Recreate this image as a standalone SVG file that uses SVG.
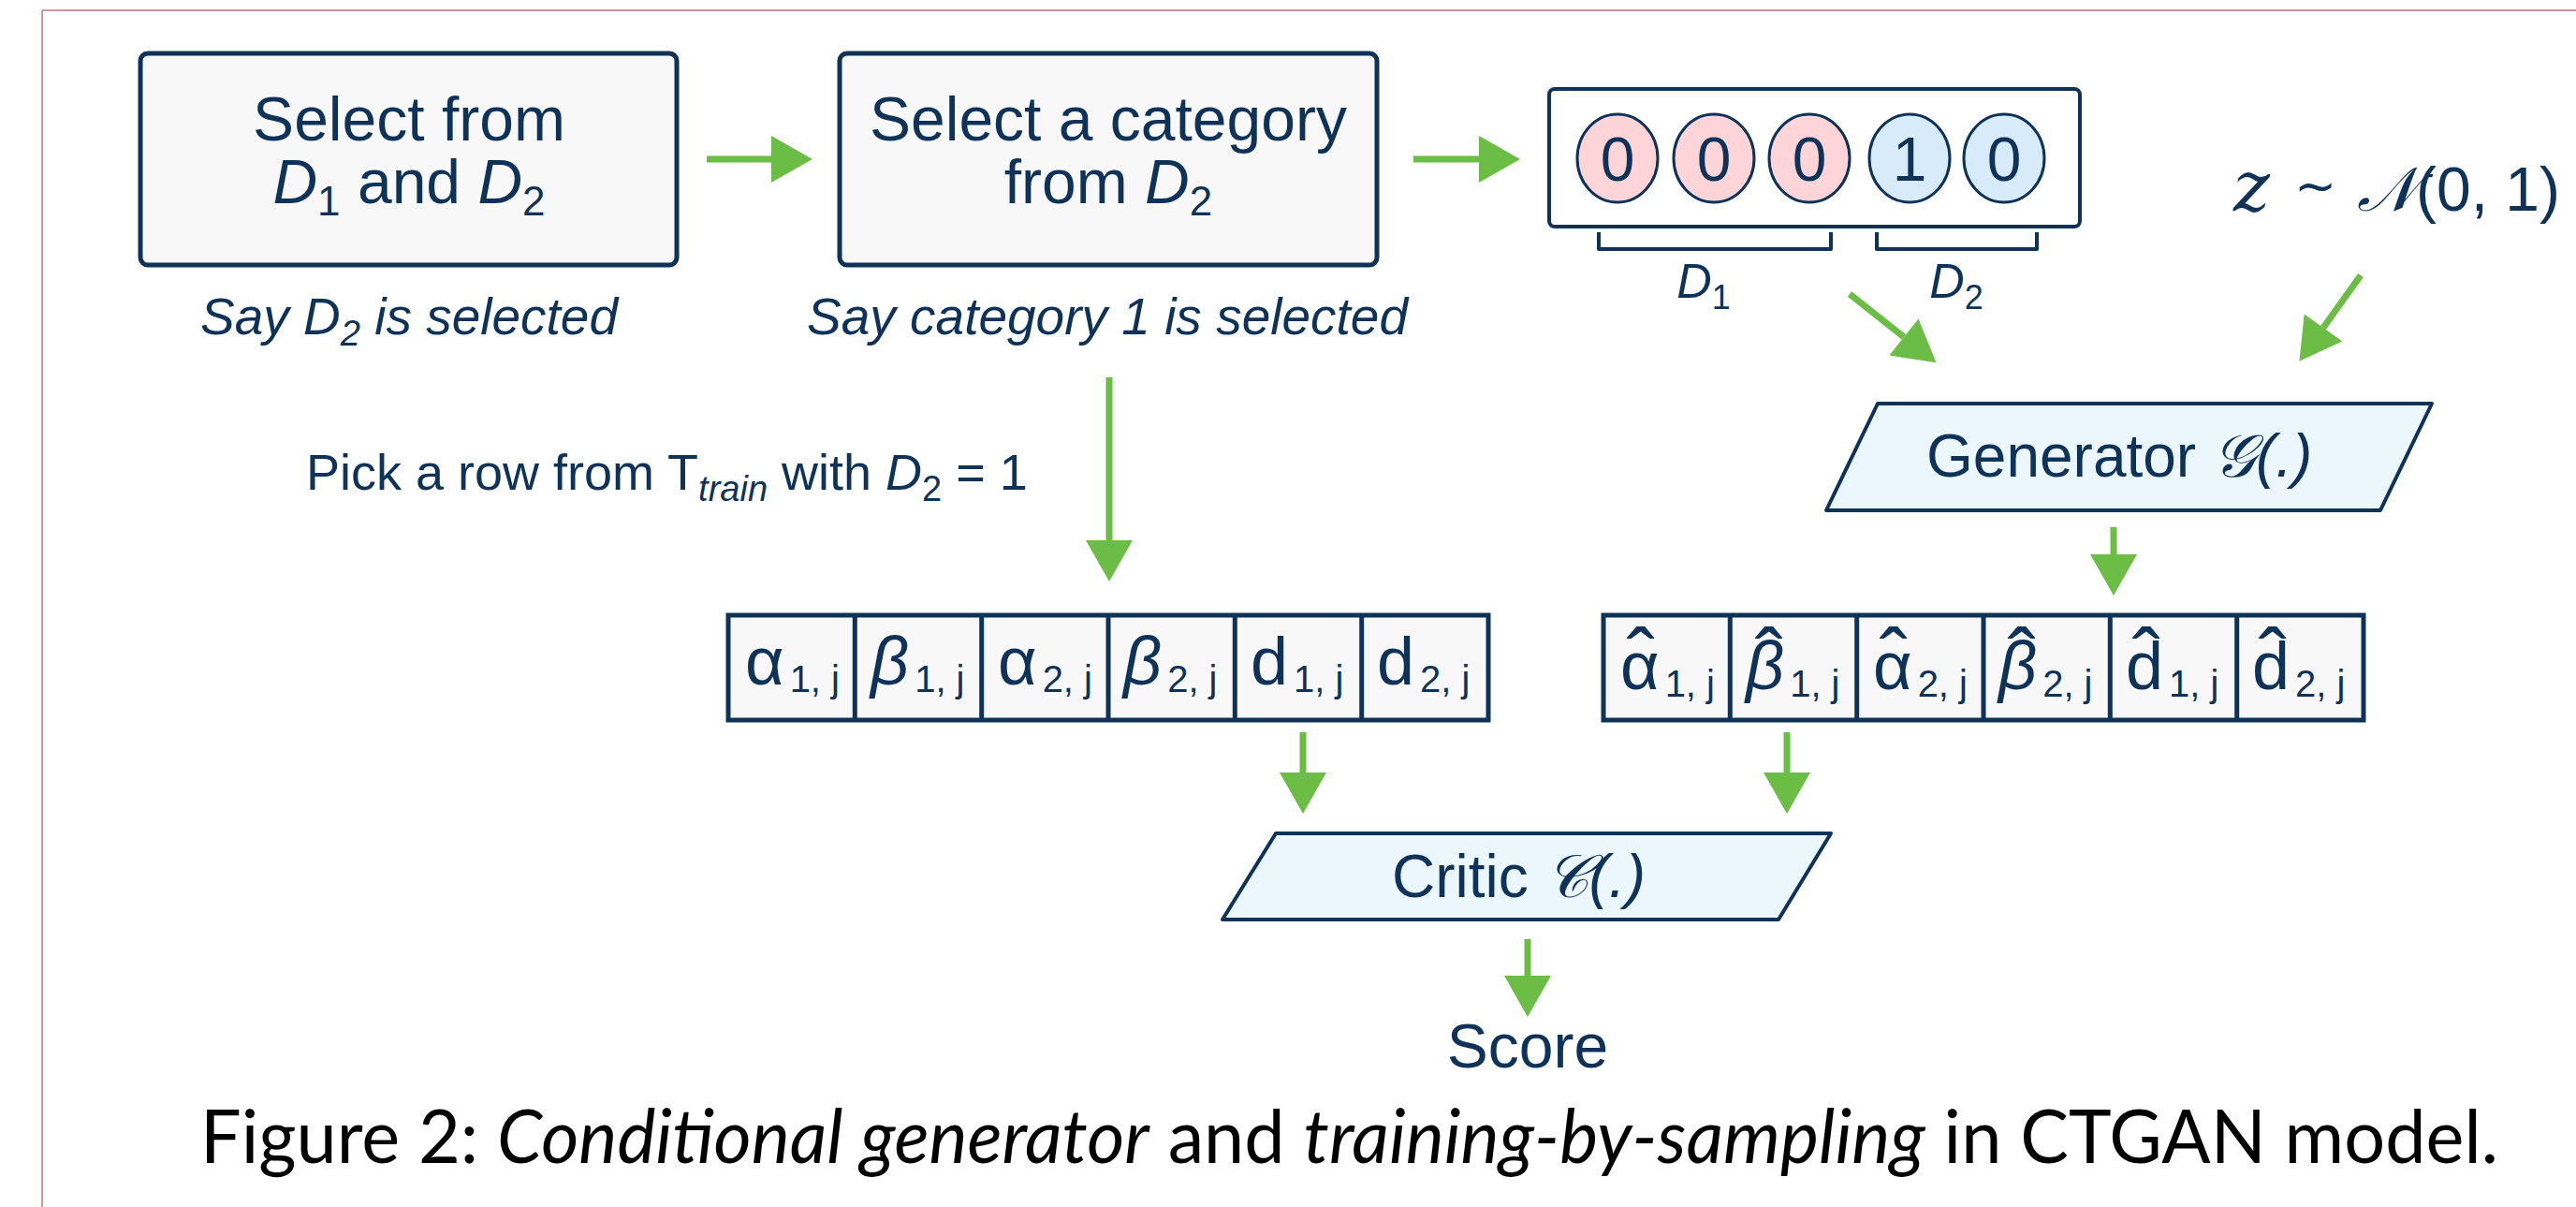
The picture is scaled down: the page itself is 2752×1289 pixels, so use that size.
<svg xmlns="http://www.w3.org/2000/svg" width="2752" height="1289" viewBox="0 0 2752 1289">
  <style>
    .t { font-family: "Liberation Sans", Arial, sans-serif; fill: #0f3358; }
    .it { font-style: italic; }
    .box { fill: #f8f8f8; stroke: #0f3358; stroke-width: 5; }
    .par { fill: #ebf6fd; stroke: #0f3358; stroke-width: 4; stroke-linejoin: round; }
    .cell { fill: #f8f8f8; stroke: #0f3358; stroke-width: 5; }
    .div { stroke: #0f3358; stroke-width: 5; }
    .pink { fill: #fdd5d8; stroke: #0f3358; stroke-width: 3; }
    .blue { fill: #d8ebfb; stroke: #0f3358; stroke-width: 3; }
    .brk { fill: none; stroke: #0f3358; stroke-width: 4; stroke-linejoin: round; }
    .arr { stroke: #6bbd45; stroke-width: 7; fill: none; marker-end: url(#head); }
    .sym { font-size: 72px; }
    .sub { font-size: 40px; }
    .hat { font-size: 90px; }
    .cap { font-family: Lato, "Open Sans", "Liberation Sans", sans-serif; font-size: 80px; fill: #000; }
    .cal { font-family: "DejaVu Serif", "DejaVu Sans", "Noto Sans", serif; }
  </style>
  <defs>
    <marker id="head" markerUnits="userSpaceOnUse" viewBox="0 -25 44 50" markerWidth="44" markerHeight="50" refX="0" refY="0" orient="auto" overflow="visible">
      <path d="M0,-25 L44,0 L0,25 z" fill="#6bbd45"/>
    </marker>
  </defs>

  <!-- page frame -->
  <g id="frame" stroke="#d9939e" stroke-width="2" fill="none">
    <line x1="45" y1="11" x2="2752" y2="11"/>
    <line x1="45" y1="11" x2="45" y2="1289"/>
  </g>

  <!-- step 1: choose a discrete column -->
  <g id="select-column">
    <rect class="box" x="150" y="57" width="573" height="226" rx="8"/>
    <text class="t" x="437" y="150" font-size="66" text-anchor="middle">Select from</text>
    <text class="t" x="437" y="217" font-size="66" text-anchor="middle"><tspan class="it">D</tspan><tspan font-size="44" dy="13">1</tspan><tspan dy="-13"> and </tspan><tspan class="it">D</tspan><tspan font-size="44" dy="13">2</tspan></text>
    <text class="t it" x="437" y="357" font-size="55" text-anchor="middle">Say <tspan>D</tspan><tspan font-size="38" dy="12">2</tspan><tspan dy="-12"> is selected</tspan></text>
  </g>

  <!-- step 2: choose a category -->
  <g id="select-category">
    <rect class="box" x="897" y="57" width="574" height="226" rx="8"/>
    <text class="t" x="1184" y="150" font-size="66" text-anchor="middle">Select a category</text>
    <text class="t" x="1184" y="217" font-size="66" text-anchor="middle">from <tspan class="it">D</tspan><tspan font-size="44" dy="13">2</tspan></text>
    <text class="t it" x="1183" y="357" font-size="55" text-anchor="middle">Say category 1 is selected</text>
  </g>

  <!-- conditional vector -->
  <g id="cond-vector">
    <rect x="1655" y="95" width="567" height="147" rx="6" fill="#fff" stroke="#0f3358" stroke-width="4"/>
    <ellipse class="pink" cx="1728" cy="169" rx="43" ry="47"/>
    <ellipse class="pink" cx="1831" cy="169" rx="43" ry="47"/>
    <ellipse class="pink" cx="1933" cy="169" rx="43" ry="47"/>
    <ellipse class="blue" cx="2040" cy="169" rx="43" ry="47"/>
    <ellipse class="blue" cx="2141" cy="169" rx="43" ry="47"/>
    <g class="t" font-size="66" text-anchor="middle">
      <text x="1728" y="193">0</text>
      <text x="1831" y="193">0</text>
      <text x="1933" y="193">0</text>
      <text x="2040" y="193">1</text>
      <text x="2141" y="193">0</text>
    </g>
    <path class="brk" d="M1708,248 V266 H1956 V248"/>
    <path class="brk" d="M2005,248 V266 H2176 V248"/>
    <text class="t" x="1820" y="318" font-size="52" text-anchor="middle"><tspan class="it">D</tspan><tspan font-size="36" dy="12">1</tspan></text>
    <text class="t" x="2090" y="318" font-size="52" text-anchor="middle"><tspan class="it">D</tspan><tspan font-size="36" dy="12">2</tspan></text>
  </g>

  <!-- noise input -->
  <g id="noise">
    <text class="t" x="2386" y="225" font-size="66"><tspan font-family="'DejaVu Serif', serif" font-style="italic" font-size="74">z</tspan><tspan dx="26" font-size="54" dy="-8">∼</tspan><tspan dx="22" dy="8" class="cal" font-style="italic">𝒩</tspan><tspan>(0, 1)</tspan></text>
  </g>

  <!-- sampling label -->
  <g id="pick-label">
    <text class="t" x="327" y="523" font-size="54">Pick a row from T<tspan class="it" font-size="38" dy="12">train</tspan><tspan dy="-12"> with </tspan><tspan class="it">D</tspan><tspan font-size="38" dy="12">2</tspan><tspan dy="-12"> = 1</tspan></text>
  </g>

  <!-- generator -->
  <g id="generator">
    <path class="par" d="M2006,431 L2598,431 L2543,545 L1951,545 Z"/>
    <text class="t" x="2058" y="509" font-size="64">Generator <tspan class="cal" font-style="italic">𝒢</tspan><tspan font-style="italic">(.)</tspan></text>
  </g>

  <!-- real row -->
  <g id="real-row">
    <rect class="cell" x="778" y="657" width="812" height="112"/>
    <line class="div" x1="913.3" y1="657" x2="913.3" y2="769"/>
    <line class="div" x1="1048.7" y1="657" x2="1048.7" y2="769"/>
    <line class="div" x1="1184" y1="657" x2="1184" y2="769"/>
    <line class="div" x1="1319.3" y1="657" x2="1319.3" y2="769"/>
    <line class="div" x1="1454.7" y1="657" x2="1454.7" y2="769"/>
    <text class="t sym" x="796" y="731">α<tspan class="sub" dx="6" dy="8">1, j</tspan></text>
    <text class="t sym" x="930" y="731"><tspan class="it">β</tspan><tspan class="sub" dx="6" dy="8">1, j</tspan></text>
    <text class="t sym" x="1066" y="731">α<tspan class="sub" dx="6" dy="8">2, j</tspan></text>
    <text class="t sym" x="1200" y="731"><tspan class="it">β</tspan><tspan class="sub" dx="6" dy="8">2, j</tspan></text>
    <text class="t sym" x="1336" y="731">d<tspan class="sub" dx="6" dy="8">1, j</tspan></text>
    <text class="t sym" x="1471" y="731">d<tspan class="sub" dx="6" dy="8">2, j</tspan></text>
  </g>

  <!-- generated row: each entry carries a hat accent -->
  <g id="fake-row">
    <rect class="cell" x="1713" y="657" width="812" height="112"/>
    <line class="div" x1="1848.3" y1="657" x2="1848.3" y2="769"/>
    <line class="div" x1="1983.7" y1="657" x2="1983.7" y2="769"/>
    <line class="div" x1="2119" y1="657" x2="2119" y2="769"/>
    <line class="div" x1="2254.3" y1="657" x2="2254.3" y2="769"/>
    <line class="div" x1="2389.7" y1="657" x2="2389.7" y2="769"/>
    <text class="t sym" x="1731" y="736">α<tspan class="sub" dx="6" dy="8">1, j</tspan><tspan class="hat" x="1738" y="735">ˆ</tspan></text>
    <text class="t sym" x="1865" y="736"><tspan class="it">β</tspan><tspan class="sub" dx="6" dy="8">1, j</tspan><tspan class="hat" x="1875" y="735">ˆ</tspan></text>
    <text class="t sym" x="2001" y="736">α<tspan class="sub" dx="6" dy="8">2, j</tspan><tspan class="hat" x="2008" y="735">ˆ</tspan></text>
    <text class="t sym" x="2135" y="736"><tspan class="it">β</tspan><tspan class="sub" dx="6" dy="8">2, j</tspan><tspan class="hat" x="2145" y="735">ˆ</tspan></text>
    <text class="t sym" x="2271" y="736">d<tspan class="sub" dx="6" dy="8">1, j</tspan><tspan class="hat" x="2278" y="735">ˆ</tspan></text>
    <text class="t sym" x="2406" y="736">d<tspan class="sub" dx="6" dy="8">2, j</tspan><tspan class="hat" x="2413" y="735">ˆ</tspan></text>
  </g>

  <!-- critic -->
  <g id="critic">
    <path class="par" d="M1363,890 L1956,890 L1900,982 L1306,982 Z"/>
    <text class="t" x="1487" y="958" font-size="64">Critic <tspan class="cal" font-style="italic">𝒞</tspan><tspan font-style="italic">(.)</tspan></text>
  </g>

  <!-- output -->
  <g id="score">
    <text class="t" x="1632" y="1140" font-size="66" text-anchor="middle">Score</text>
  </g>

  <!-- connectors -->
  <g id="connectors">
    <line class="arr" x1="755" y1="170" x2="824" y2="170"/>
    <line class="arr" x1="1510" y1="170" x2="1580" y2="170"/>
    <line class="arr" x1="1185" y1="403" x2="1185" y2="577"/>
    <line class="arr" x1="1976" y1="314" x2="2034" y2="360"/>
    <line class="arr" x1="2522" y1="294" x2="2482" y2="350"/>
    <line class="arr" x1="2258" y1="563" x2="2258" y2="592"/>
    <line class="arr" x1="1392" y1="782" x2="1392" y2="825"/>
    <line class="arr" x1="1909" y1="782" x2="1909" y2="825"/>
    <line class="arr" x1="1632" y1="1003" x2="1632" y2="1042"/>
  </g>

  <!-- caption -->
  <text class="cap" x="214" y="1242" textLength="2455" lengthAdjust="spacingAndGlyphs">Figure 2: <tspan font-style="italic">Conditional generator</tspan> and <tspan font-style="italic">training-by-sampling</tspan> in CTGAN model.</text>
</svg>
